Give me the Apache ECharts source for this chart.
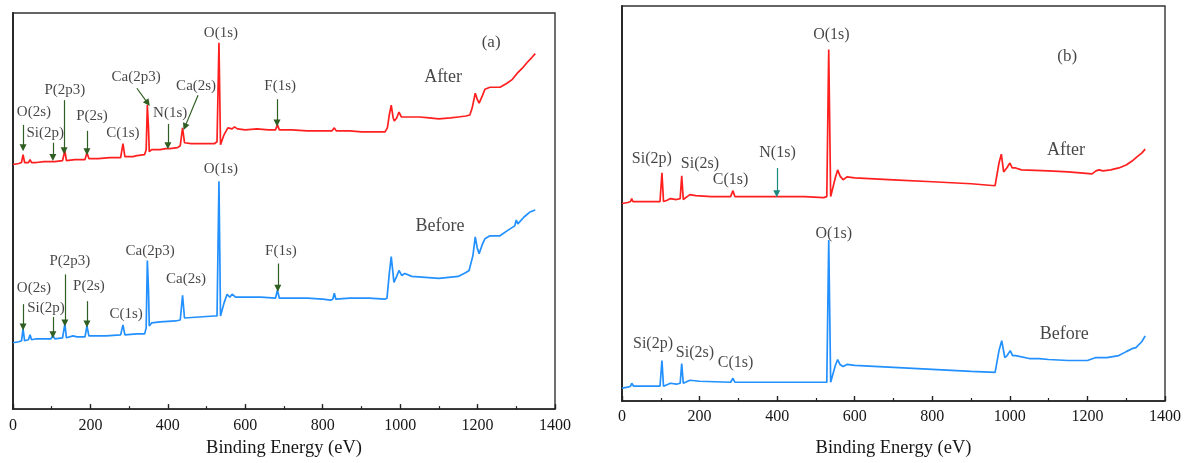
<!DOCTYPE html>
<html>
<head>
<meta charset="utf-8">
<script src="https://cdn.jsdelivr.net/npm/echarts@6/dist/echarts.min.js"></script>
<style>
  html, body { margin: 0; padding: 0; background: #fff; }
  #chart { width: 1184px; height: 463px; }
</style>
</head>
<body>
<div id="chart"></div>
<script>
// XPS survey spectra: panel (a) and panel (b), each "After" (red) and "Before" (blue)
// Intensities are in arbitrary units (0–400) with vertical offsets between curves.

const energyTicks = [0, 200, 400, 600, 800, 1000, 1200, 1400];

// Panel (a) — After
const afterA = [
  [0,247],[15,248],[22,249],[26,257],[30,249],[40,249],[44,252],[48,249],[60,249],[80,250],
  [98,250],[103,252],[108,250],[128,251],[134,261],[138,251],[160,252],[165,253],[175,252],[186,252],
  [191,259],[196,253],[220,253],[250,254],[278,254],[284,268],[289,255],[310,255],[320,256],[340,257],
  [344,262],[347,307],[350,284],[352,260],[358,262],[380,262],[395,263],[400,265],[405,263],[425,264],
  [432,266],[438,284],[443,269],[460,268],[500,268],[520,268],[527,270],[532,370],[536,267],[545,277],
  [555,284],[560,285],[566,283],[572,285],[580,283],[600,282],[630,283],[660,282],[678,282],[683,287],
  [688,282],[720,282],[760,281],[800,281],[824,281],[830,284],[835,281],[870,281],[900,280],[940,280],
  [961,280],[967,284],[972,297],[977,307],[982,294],[985,291],[991,294],[997,300],[1003,295],[1008,296],
  [1020,295],[1050,295],[1075,294],[1100,293],[1130,294],[1150,295],[1170,296],[1180,297],[1186,304],[1194,319],
  [1199,313],[1204,309],[1212,316],[1219,323],[1232,325],[1245,325],[1258,325],[1276,329],[1290,333],[1302,339],
  [1315,344],[1328,350],[1340,355],[1349,359]
];

// Panel (a) — Before
const beforeA = [
  [0,67],[15,68],[22,69],[26,81],[30,69],[40,70],[44,75],[48,70],[60,71],[80,71],
  [98,71],[103,74],[108,71],[128,72],[134,86],[138,72],[155,74],[165,73],[186,73],[191,84],
  [196,74],[240,74],[278,75],[284,85],[289,75],[320,76],[340,76],[344,82],[347,150],[350,120],
  [352,84],[358,87],[380,88],[420,89],[432,90],[438,115],[443,92],[480,93],[520,94],[527,94],
  [532,230],[536,94],[545,107],[553,116],[560,113],[566,116],[575,113],[600,113],[640,113],[678,112],
  [683,120],[688,112],[720,112],[760,112],[800,111],[820,110],[826,111],[830,117],[834,111],[870,112],
  [920,112],[960,111],[966,112],[972,137],[977,154],[984,128],[991,134],[997,140],[1004,135],[1012,137],
  [1030,134],[1065,133],[1100,132],[1150,134],[1170,138],[1178,140],[1183,138],[1188,155],[1194,174],[1199,163],
  [1204,157],[1212,166],[1219,172],[1232,175],[1258,175],[1276,180],[1296,185],[1300,191],[1304,187],[1320,194],
  [1335,199],[1349,201]
];

// Panel (b) — After
const afterB = [
  [0,200],[15,201],[22,202],[25,205],[28,202],[50,202],[80,202],[98,202],[103,231],[107,202],
  [115,203],[125,205],[140,204],[150,205],[154,228],[158,204],[168,207],[175,209],[190,208],[230,207],
  [280,207],[286,213],[291,207],[350,207],[395,207],[400,208],[405,207],[470,207],[520,206],[528,207],
  [533,356],[538,207],[542,208],[550,226],[556,234],[562,228],[570,224],[580,227],[600,226],[650,225],
  [700,224],[800,222],[900,220],[962,218],[966,220],[972,241],[978,250],[984,232],[992,236],[1000,241],
  [1006,236],[1015,236],[1030,234],[1100,233],[1150,232],[1212,230],[1222,233],[1230,234],[1240,233],[1260,234],
  [1281,236],[1300,239],[1315,243],[1330,248],[1340,251],[1349,255]
];

// Panel (b) — Before
const beforeB = [
  [0,13],[15,14],[22,15],[25,18],[30,15],[60,15],[98,15],[103,41],[107,15],[125,18],
  [140,17],[150,18],[154,38],[158,18],[175,21],[200,20],[280,19],[286,23],[291,19],[400,19],
  [520,19],[528,19],[533,163],[538,19],[550,36],[556,42],[562,37],[570,35],[580,37],[600,36],
  [700,34],[800,32],[900,30],[962,29],[966,31],[972,51],[979,61],[987,44],[993,46],[1001,51],
  [1007,46],[1015,46],[1050,43],[1075,43],[1100,42],[1150,41],[1179,41],[1200,41],[1222,44],[1250,44],
  [1281,46],[1300,50],[1315,53],[1325,54],[1340,60],[1349,66]
];

// Peak annotations: [text, energy, intensity] at the label centre
const peakLabelsA = [
  ['O(2s)',54,300],['Si(2p)',83,279],['P(2p3)',134,322],['P(2s)',204,296],['C(1s)',284,279],
  ['Ca(2p3)',318,335],['N(1s)',406,299],['Ca(2s)',473,326],['O(1s)',537,380],['F(1s)',690,326],
  ['O(2s)',54,122],['Si(2p)',85,102],['P(2p3)',147,150],['P(2s)',196,124],['C(1s)',292,96],
  ['Ca(2p3)',354,160],['Ca(2s)',447,131],['O(1s)',537,242],['F(1s)',692,160]
];
const peakLabelsB = [
  ['O(1s)',540,371],['Si(2p)',77,245],['Si(2s)',201,240],['C(1s)',280,224],['N(1s)',401,251],
  ['O(1s)',546,169],['Si(2p)',80,58],['Si(2s)',188,49],['C(1s)',293,39]
];
const curveLabelsA = [['After',1111,335],['Before',1103,185]];
const curveLabelsB = [['After',1145,254],['Before',1140,68]];
const panelTagA = ['(a)',1235,370];
const panelTagB = ['(b)',1148,349];

// Arrows: [fromEnergy, fromIntensity, toEnergy, toIntensity]
const arrowsA = [
  [26,287,26,264],[103,269,103,254],[132,312,132,261],[191,281,191,260],[320,324,348,309],
  [400,288,400,266],[478,317,444,285],[682,313,682,289],
  [26,106,26,83],[103,93,103,75],[134,136,134,87],[191,109,191,86],[684,147,684,122]
];
const arrowsB = [[399,236,399,210]];

const FONT = 'Liberation Serif, Times New Roman, serif';
const RED = '#ff1f1f';
const BLUE = '#2290ff';
const INK = '#161616';

const chart = echarts.init(document.getElementById('chart'), null, { renderer: 'canvas' });

function xAxisFor(gridIndex, nameGap, labelMargin) {
  return {
    gridIndex, type: 'value', min: 0, max: 1400, interval: 200,
    name: 'Binding Energy (eV)', nameLocation: 'middle', nameGap,
    nameTextStyle: { fontFamily: FONT, fontSize: 18.5, color: INK },
    axisLine: { show: true, onZero: false, lineStyle: { color: '#222', width: 1.6 } },
    axisTick: { show: true, inside: true, length: 5, lineStyle: { color: '#222', width: 1.4 } },
    minorTick: { show: true, splitNumber: 2, length: 3, lineStyle: { color: '#222', width: 1.2 } },
    axisLabel: { fontFamily: FONT, fontSize: 16, color: INK, margin: labelMargin,
      formatter: v => String(v) },
    splitLine: { show: false }
  };
}
function yAxisFor(gridIndex) {
  return {
    gridIndex, type: 'value', min: 0, max: 400,
    axisLine: { show: true, onZero: false, lineStyle: { color: '#222', width: 1.8 } },
    axisTick: { show: false }, axisLabel: { show: false }, splitLine: { show: false }
  };
}
function spectrum(name, data, color, idx) {
  return {
    name, type: 'line', xAxisIndex: idx, yAxisIndex: idx, data,
    showSymbol: false, symbol: 'none', animation: false, silent: true,
    lineStyle: { color, width: 1.7 }
  };
}
function textLayer(items, idx, fontSize) {
  return {
    type: 'scatter', xAxisIndex: idx, yAxisIndex: idx, symbolSize: 0, silent: true, animation: false,
    data: items.map(d => ({ name: d[0], value: [d[1], d[2]] })),
    label: { show: true, position: 'inside', formatter: p => p.name,
      fontFamily: FONT, fontSize, color: INK }
  };
}
function arrowLayer(list, idx, color) {
  return {
    type: 'line', xAxisIndex: idx, yAxisIndex: idx, data: [], silent: true, animation: false,
    markLine: {
      silent: true, animation: false, symbol: ['none', 'triangle'], symbolSize: 7,
      label: { show: false },
      lineStyle: { color, width: 1.2, type: 'solid' },
      emphasis: { disabled: true },
      data: list.map(a => [{ coord: [a[0], a[1]] }, { coord: [a[2], a[3]] }])
    }
  };
}

chart.setOption({
  backgroundColor: '#ffffff',
  animation: false,
  grid: [
    { left: 13, top: 13, width: 542, height: 399, show: true, borderColor: '#333', borderWidth: 1.4 },
    { left: 622, top: 6, width: 544, height: 400, show: true, borderColor: '#333', borderWidth: 1.4 }
  ],
  xAxis: [xAxisFor(0, 29, 9), xAxisFor(1, 38, 8)],
  yAxis: [yAxisFor(0), yAxisFor(1)],
  series: [
    spectrum('After', afterA, RED, 0),
    spectrum('Before', beforeA, BLUE, 0),
    spectrum('After', afterB, RED, 1),
    spectrum('Before', beforeB, BLUE, 1),
    arrowLayer(arrowsA, 0, '#2f5f22'),
    arrowLayer(arrowsB, 1, '#1d8a80'),
    textLayer(peakLabelsA, 0, 15),
    textLayer(peakLabelsB, 1, 16),
    textLayer(curveLabelsA, 0, 18),
    textLayer(curveLabelsB, 1, 18),
    textLayer([panelTagA], 0, 17),
    textLayer([panelTagB], 1, 17)
  ]
});
</script>
</body>
</html>
